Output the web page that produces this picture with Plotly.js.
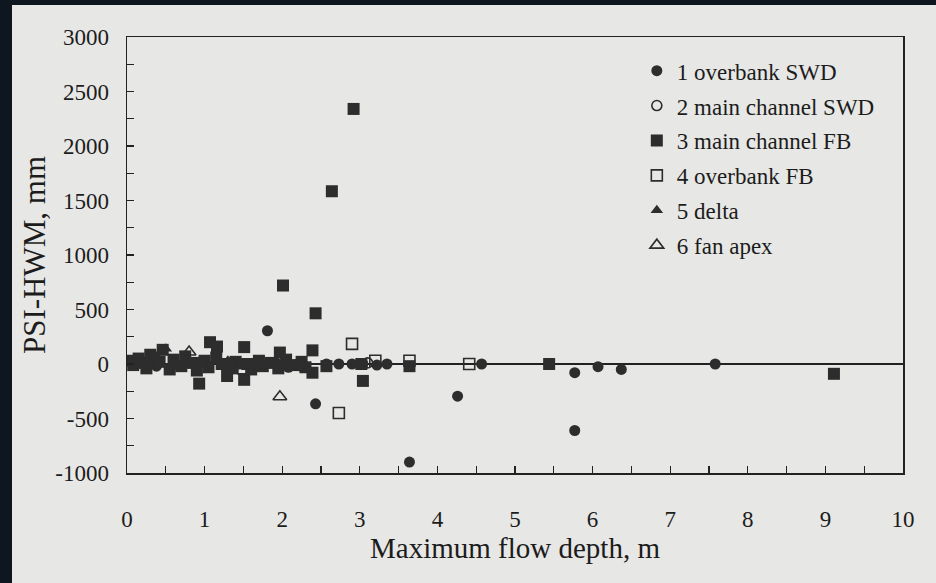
<!DOCTYPE html>
<html>
<head>
<meta charset="utf-8">
<script src="https://cdn.plot.ly/plotly-3.0.1.min.js"></script>
<style>
  html, body { margin: 0; padding: 0; width: 936px; height: 583px; overflow: hidden; background: #0e1620; }
  #chart { position: absolute; left: 12px; top: 5px; width: 924px; height: 578px; }
</style>
</head>
<body>
<div id="chart"></div>
<script>
// ---- data (x: maximum flow depth, m; y: PSI-HWM, mm) ----
const names = ["1 overbank SWD", "2 main channel SWD", "3 main channel FB", "4 overbank FB", "5 delta", "6 fan apex"];

const overbankSWD_x = [0.12, 0.38, 0.62, 0.95, 1.25, 1.45, 1.68, 1.81, 1.92, 2.08, 2.2, 2.43, 2.57, 2.73, 2.9, 3.04, 3.22, 3.35, 3.64, 4.26, 4.57, 5.77, 5.77, 6.07, 6.37, 7.58];
const overbankSWD_y = [10, -20, 0, 20, -10, 0, -20, 305, 10, -30, 0, -365, 0, 0, 0, 0, -10, 0, -900, -295, 0, -80, -610, -25, -50, 0];

const mainSWD_x = [0.3, 1.35, 2.25, 3.1];
const mainSWD_y = [20, 10, -20, 10];

const mainFB_x = [0.03, 0.08, 0.15, 0.2, 0.25, 0.3, 0.35, 0.42, 0.46, 0.55, 0.6, 0.7, 0.75, 0.85, 0.9, 0.93, 1.0, 1.05, 1.07, 1.15, 1.16, 1.22, 1.29, 1.35, 1.4, 1.51, 1.51, 1.55, 1.6, 1.7, 1.75, 1.85, 1.95, 1.97, 2.01, 2.05, 2.15, 2.25, 2.3, 2.39, 2.39, 2.43, 2.57, 2.64, 2.92, 3.02, 3.04, 3.64, 5.44, 9.11];
const mainFB_y = [30, -10, 50, 10, -40, 85, 60, 20, 130, -50, 40, -20, 70, 10, -60, -180, 30, -30, 200, 60, 160, 0, -110, -40, 20, 155, -145, 0, -50, 30, -20, 10, -40, 105, 720, 40, -10, 20, -30, 125, -80, 465, -20, 1585, 2340, 0, -155, -20, 0, -90];

const overbankFB_x = [1.5, 2.73, 2.9, 3.2, 3.64, 4.41];
const overbankFB_y = [-40, -450, 185, 30, 30, 0];

const delta_x = [0.25, 0.5, 1.3];
const delta_y = [40, 140, 30];

const fanApex_x = [0.8, 1.97];
const fanApex_y = [110, -300];

// tick labels as printed (plain hyphen for negatives)
const yTickVals = [-1000, -500, 0, 500, 1000, 1500, 2000, 2500, 3000];
const yTickText = ["-1000", "-500", "0", "500", "1000", "1500", "2000", "2500", "3000"];
const xTickVals = [0, 1, 2, 3, 4, 5, 6, 7, 8, 9, 10];
const xTickText = ["0", "1", "2", "3", "4", "5", "6", "7", "8", "9", "10"];

// ---- styling ----
const ink = "#2d2d2d";
const serif = "Liberation Serif, Times New Roman, serif";
const paper = "#e7e7e5";
const txt = "#1c1c1c";

function tr(i, xs, ys, symbol, size, rank, open) {
  return {
    type: "scatter", mode: "markers", name: names[i], x: xs, y: ys,
    legendgroup: "g" + i, legendrank: rank,
    marker: {
      symbol: symbol, size: size, color: ink,
      line: { color: ink, width: open ? 1.6 : 0 }
    },
    hoverinfo: "x+y"
  };
}

const traces = [
  tr(2, mainFB_x, mainFB_y, "square", 12, 3, false),
  tr(3, overbankFB_x, overbankFB_y, "square-open", 11, 4, true),
  tr(0, overbankSWD_x, overbankSWD_y, "circle", 11, 1, false),
  tr(1, mainSWD_x, mainSWD_y, "circle-open", 10, 2, true),
  tr(4, delta_x, delta_y, "triangle-up", 11, 5, false),
  tr(5, fanApex_x, fanApex_y, "triangle-up-open", 12, 6, true)
];

const layout = {
  width: 924, height: 578,
  paper_bgcolor: paper, plot_bgcolor: paper,
  margin: { l: 115, r: 33, t: 32, b: 110 },
  font: { family: serif, color: txt },
  showlegend: true,
  legend: {
    x: 0.657, y: 0.972, xanchor: "left", yanchor: "top",
    bgcolor: "rgba(0,0,0,0)", borderwidth: 0,
    font: { family: serif, size: 23, color: txt },
    traceorder: "grouped", tracegroupgap: 2
  },
  xaxis: {
    range: [0, 10], tickmode: "array", tickvals: xTickVals, ticktext: xTickText,
    ticks: "inside", ticklen: 7, tickwidth: 1.2, tickcolor: "#222",
    minor: { dtick: 0.5, tick0: 0, ticks: "inside", ticklen: 7, tickwidth: 1.2, tickcolor: "#222", showgrid: false },
    showline: true, mirror: true, linecolor: "#222", linewidth: 1.5,
    showgrid: false, zeroline: false,
    tickfont: { family: serif, size: 23, color: txt },
    ticklabelstandoff: 25,
    title: { text: "Maximum flow depth, m", font: { family: serif, size: 29, color: txt }, standoff: 2 }
  },
  yaxis: {
    range: [-1000, 3000], tickmode: "array", tickvals: yTickVals, ticktext: yTickText,
    ticks: "inside", ticklen: 7, tickwidth: 1.2, tickcolor: "#222",
    minor: { dtick: 250, tick0: 0, ticks: "inside", ticklen: 7, tickwidth: 1.2, tickcolor: "#222", showgrid: false },
    showline: true, mirror: true, linecolor: "#222", linewidth: 1.5,
    showgrid: false,
    zeroline: true, zerolinecolor: "#222", zerolinewidth: 1.5,
    tickfont: { family: serif, size: 23, color: txt },
    ticklabelstandoff: 12,
    title: { text: "PSI-HWM, mm", font: { family: serif, size: 31, color: txt }, standoff: 0 }
  }
};

Plotly.newPlot("chart", traces, layout, { displayModeBar: false, staticPlot: true });
</script>
</body>
</html>
